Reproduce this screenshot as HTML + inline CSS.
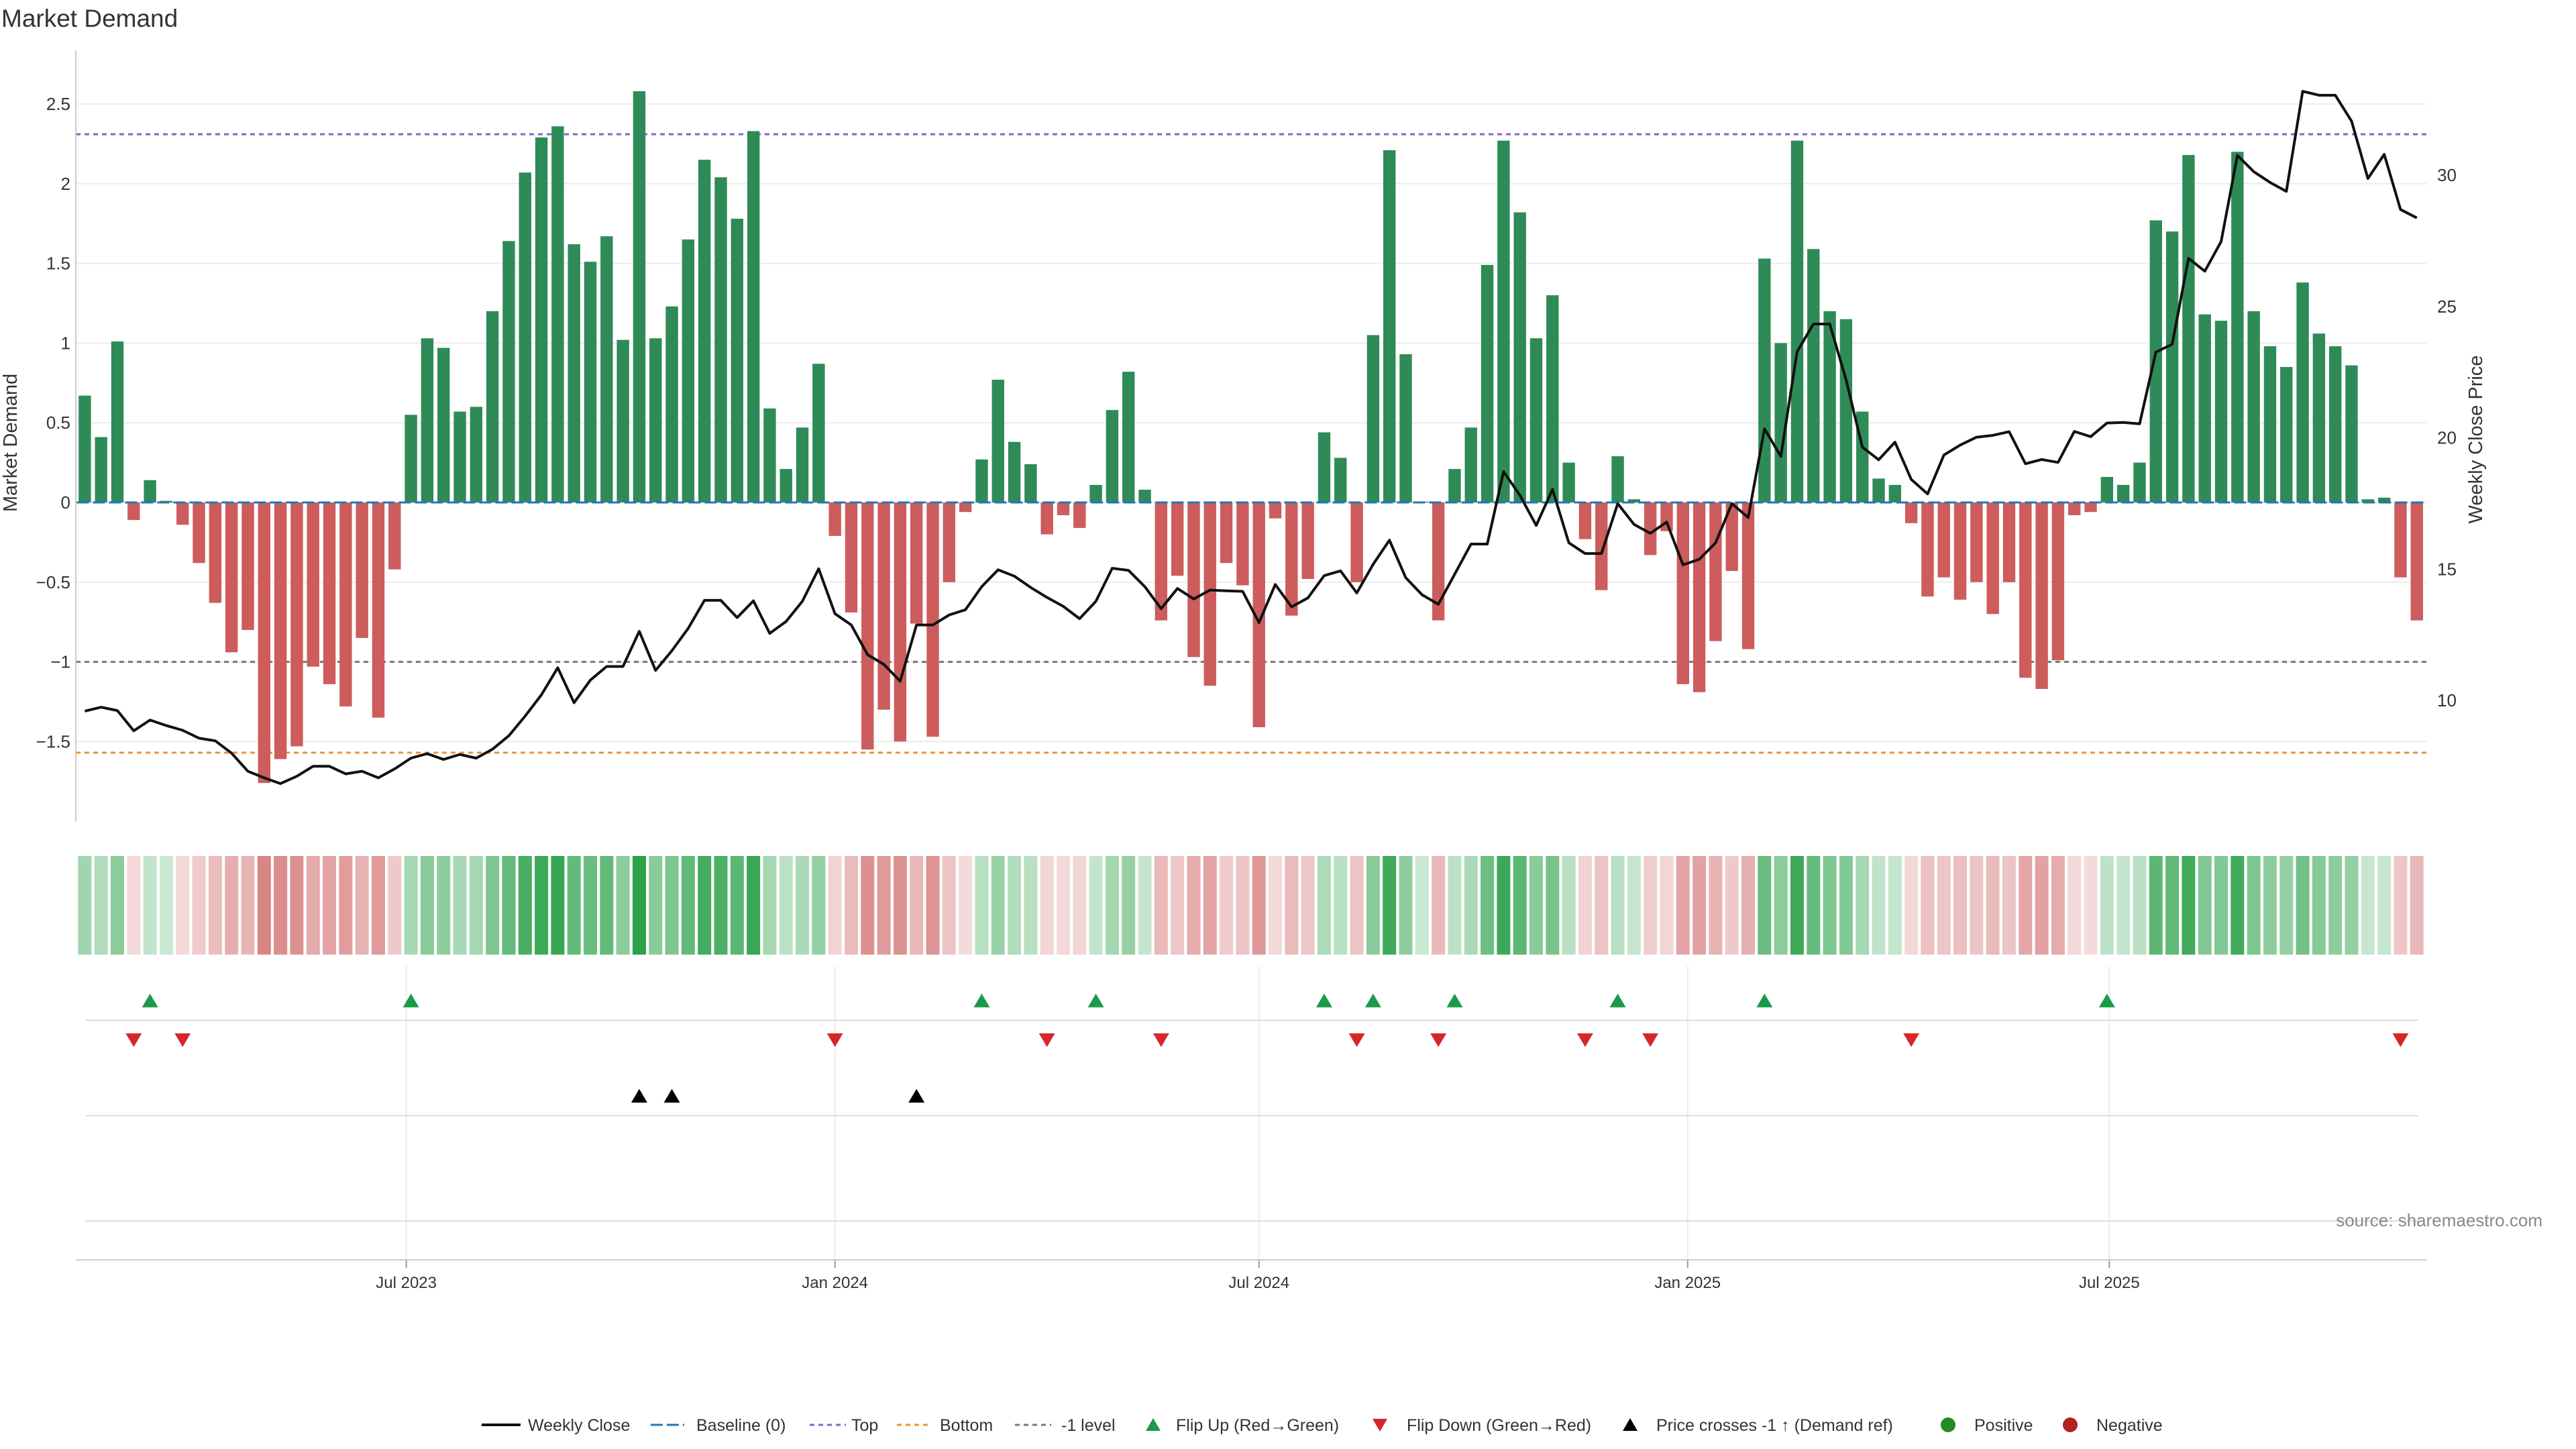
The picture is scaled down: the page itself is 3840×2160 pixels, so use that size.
<!DOCTYPE html>
<html><head><meta charset="utf-8">
<style>
html,body{margin:0;padding:0;background:#fff;}
svg{display:block;font-family:"Liberation Sans","DejaVu Sans",sans-serif;}
</style></head>
<body>
<svg id="chart" width="3840" height="2160" viewBox="0 0 3840 2160" xmlns="http://www.w3.org/2000/svg">
<text x="2" y="40" font-size="37" fill="#333">Market Demand</text>
<g id="grid"></g><g id="refs"></g><g id="bars"></g><g id="price"></g><g id="axes"></g><g id="lower"></g><g id="legend"></g>
</svg>
<script>
const demand = [0.67,0.41,1.01,-0.11,0.14,0.01,-0.14,-0.38,-0.63,-0.94,-0.80,-1.76,-1.61,-1.53,-1.03,-1.14,-1.28,-0.85,-1.35,-0.42,
0.55,1.03,0.97,0.57,0.60,1.20,1.64,2.07,2.29,2.36,1.62,1.51,1.67,1.02,2.58,1.03,1.23,1.65,2.15,2.04,1.78,2.33,0.59,0.21,0.47,0.87,
-0.21,-0.69,-1.55,-1.30,-1.50,-0.76,-1.47,-0.50,-0.06,0.27,0.77,0.38,0.24,-0.20,-0.08,-0.16,0.11,0.58,0.82,0.08,
-0.74,-0.46,-0.97,-1.15,-0.38,-0.52,-1.41,-0.10,-0.71,-0.48,0.44,0.28,-0.50,1.05,2.21,0.93,0.005,-0.74,0.21,0.47,1.49,2.27,1.82,1.03,1.30,0.25,
-0.23,-0.55,0.29,0.02,-0.33,-0.18,-1.14,-1.19,-0.87,-0.43,-0.92,1.53,1.00,2.27,1.59,1.20,1.15,0.57,0.15,0.11,
-0.13,-0.59,-0.47,-0.61,-0.50,-0.70,-0.50,-1.10,-1.17,-0.99,-0.08,-0.06,0.16,0.11,0.25,1.77,1.70,2.18,1.18,1.14,2.20,1.20,0.98,0.85,1.38,1.06,0.98,0.86,0.02,0.03,-0.47,-0.74];
const price = [9.59,9.74,9.61,8.84,9.25,9.04,8.86,8.56,8.46,7.99,7.30,7.05,6.83,7.11,7.49,7.49,7.20,7.30,7.05,7.39,7.80,7.97,7.75,7.94,7.80,8.14,8.65,9.40,10.21,11.24,9.91,10.77,11.29,11.29,12.63,11.14,11.89,
12.74,13.81,13.81,13.15,13.79,12.55,13.00,13.77,15.01,13.30,12.87,11.74,11.37,10.73,12.87,12.87,13.25,13.45,14.33,14.97,14.73,14.30,13.92,13.58,13.11,13.77,15.03,14.95,14.33,13.49,14.26,13.86,14.20,14.17,
14.15,12.96,14.41,13.56,13.90,14.75,14.93,14.09,15.18,16.10,14.67,14.02,13.66,14.80,15.95,15.95,18.71,17.81,16.66,18.03,16.00,15.59,15.59,17.49,16.70,16.36,16.79,15.16,15.37,16.00,17.49,16.96,20.34,19.29,23.28,
24.33,24.33,22.21,19.64,19.16,19.83,18.41,17.86,19.34,19.72,20.02,20.09,20.23,19.01,19.17,19.06,20.24,20.04,20.56,20.58,20.53,23.26,23.56,26.83,26.34,27.47,30.75,30.13,29.72,29.38,33.19,33.04,33.04,32.05,29.87,30.79,28.69,28.37];
const demandTicks = [-1.5,-1,-0.5,0,0.5,1,1.5,2,2.5];
const priceTicks = [10,15,20,25,30];
const dateTicks = ["2023-07-01","2024-01-01","2024-07-01","2025-01-01","2025-07-01"];
const dateLabels = ["Jul 2023","Jan 2024","Jul 2024","Jan 2025","Jul 2025"];
const refTop = 2.31, refBottom = -1.57, refMinus1 = -1;
const startDate = "2023-02-13";

const NS="http://www.w3.org/2000/svg";
function mk(tag, attrs, parent){const e=document.createElementNS(NS,tag);for(const k in attrs)e.setAttribute(k,attrs[k]);parent.appendChild(e);return e;}
const xBar = i => 126.4 + i*24.31;
const yD = v => 749 - v*237.6;
const yP = p => 652.5 - (p-20)*39.15;
const xDate = s => xBar((new Date(s) - new Date(startDate))/(7*86400000));
const fmt = v => (v<0?"\u2212":"")+Math.abs(v);
const L=113, R=3617;

const grid=document.getElementById('grid');
demandTicks.forEach(t=>{
  const l=mk('line',{x1:L,x2:R,y1:yD(t),y2:yD(t),stroke:'#ececec','stroke-width':2},grid);
  
  
});
const axes=document.getElementById('axes');
demandTicks.forEach(t=>{
  const tx=mk('text',{x:105,y:yD(t)+9,'text-anchor':'end','font-size':26,fill:'#333'},axes);
  tx.textContent=fmt(t);
  
  
});
priceTicks.forEach(t=>{
  const tx=mk('text',{x:3633,y:yP(t)+9,'font-size':26,fill:'#333'},axes);
  tx.textContent=t;
  
  
});
mk('line',{x1:L,x2:L,y1:75,y2:1225,stroke:'#ccc','stroke-width':2},axes);
let t1=mk('text',{x:0,y:0,'font-size':29,fill:'#333','text-anchor':'middle',transform:'translate(25,660) rotate(-90)'},axes);
t1.textContent='Market Demand';


let t2=mk('text',{x:0,y:0,'font-size':29,fill:'#333','text-anchor':'middle',transform:'translate(3700,655) rotate(-90)'},axes);
t2.textContent='Weekly Close Price';



const refs=document.getElementById('refs');
[[refTop,'#7b68c8','top-line'],[refBottom,'#f0922e','bottom-line'],[refMinus1,'#777','minus1-line']].forEach(r=>{
  const l=mk('line',{x1:L,x2:R,y1:yD(r[0]),y2:yD(r[0]),stroke:r[1],'stroke-width':3,'stroke-dasharray':'7 6'},refs);
  
  
});

const bars=document.getElementById('bars');
demand.forEach((v,i)=>{
  const y0=yD(0), y1=yD(v);
  const b=mk('rect',{x:xBar(i)-9.2,y:Math.min(y0,y1),width:18.4,height:Math.max(Math.abs(y1-y0),0.5),fill:v>=0?'#2e8b57':'#cd5c5c'},bars);
  
  
});
const bl=mk('line',{x1:xBar(0)-12,x2:xBar(demand.length-1)+12,y1:yD(0),y2:yD(0),stroke:'#1f77b4','stroke-width':3,'stroke-dasharray':'18 6'},bars);



const pl=mk('polyline',{points:price.map((p,i)=>xBar(i)+','+yP(p)).join(' '),fill:'none',stroke:'#111','stroke-width':4,'stroke-linejoin':'round'},document.getElementById('price'));



const lower=document.getElementById('lower');
dateTicks.forEach((d,k)=>{
  const x=xDate(d);
  const g=mk('line',{x1:x,x2:x,y1:1440,y2:1878,stroke:'#ececec','stroke-width':2},lower);
  
  
  const tk=mk('line',{x1:x,x2:x,y1:1878,y2:1890,stroke:'#999','stroke-width':2},lower);
  const tx=mk('text',{x:x,y:1920,'text-anchor':'middle','font-size':24,fill:'#333'},lower);
  tx.textContent=dateLabels[k];
  
  
});
[1521,1663,1820].forEach(y=>{
  const l=mk('line',{x1:127,x2:3605,y1:y,y2:y,stroke:'#ddd','stroke-width':2},lower);
  
  
});
const xa=mk('line',{x1:L,x2:R,y1:1878,y2:1878,stroke:'#ccc','stroke-width':2},lower);


demand.forEach((v,i)=>{
  const a=v>=0?0.25+0.75*Math.min(v/2.6,1):0.2+0.55*Math.min(-v/1.76,1);
  const c=mk('rect',{x:xBar(i)-10,y:1276,width:20,height:147,fill:v>=0?'rgba(40,160,70,'+a.toFixed(2)+')':'rgba(205,92,92,'+a.toFixed(2)+')'},lower);
  
  
});
function tri(x,y,up,color,name){
  const s=12;
  const pts=up?`${x-s},${y+s*0.8} ${x+s},${y+s*0.8} ${x},${y-s*0.9}`:`${x-s},${y-s*0.8} ${x+s},${y-s*0.8} ${x},${y+s*0.9}`;
  const t=mk('polygon',{points:pts,fill:color},lower);
  
  
}
const crossLevel = 20 - (yD(-1)-yP(20))/39.15;
demand.forEach((v,i)=>{
  if(i===0)return;
  if(v>0 && demand[i-1]<=0) tri(xBar(i),1492,true,'#1a9a4a','flip-up-marker');
  if(v<0 && demand[i-1]>=0) tri(xBar(i),1550,false,'#d62728','flip-down-marker');
  if(price[i]>crossLevel && price[i-1]<=crossLevel) tri(xBar(i),1634,true,'#000','price-cross-marker');
});
const src=mk('text',{x:3790,y:1828,'text-anchor':'end','font-size':26,fill:'#888'},lower);
src.textContent='source: sharemaestro.com';



const lg=document.getElementById('legend');
const Y=2124;
function ltext(x,s){const t=mk('text',{x:x,y:Y+9,'font-size':25,fill:'#333'},lg);t.textContent=s;}
function lline(x1,x2,c,dash,w){const l=mk('line',{x1:x1,x2:x2,y1:Y,y2:Y,stroke:c,'stroke-width':w,'stroke-dasharray':dash},lg);}
lline(718,776,'#111','none',4);ltext(787,'Weekly Close');
lline(970,1020,'#1f77b4','18 6',3);ltext(1038,'Baseline (0)');
lline(1207,1261,'#7b68c8','7 6',3);ltext(1269,'Top');
lline(1337,1386,'#f0922e','7 6',3);ltext(1401,'Bottom');
lline(1513,1567,'#777','7 6',3);ltext(1582,'-1 level');
function ltri(x,up,c){const s=11;const pts=up?`${x-s},${Y+9} ${x+s},${Y+9} ${x},${Y-10}`:`${x-s},${Y-9} ${x+s},${Y-9} ${x},${Y+10}`;const p=mk('polygon',{points:pts,fill:c},lg);}
ltri(1719,true,'#1a9a4a');ltext(1753,'Flip Up (Red\u2192Green)');
ltri(2057,false,'#d62728');ltext(2097,'Flip Down (Green\u2192Red)');
ltri(2430,true,'#000');ltext(2469,'Price crosses -1 \u2191 (Demand ref)');
let c1=mk('circle',{cx:2904,cy:Y,r:11,fill:'#228b22'},lg);
ltext(2943,'Positive');
let c2=mk('circle',{cx:3086,cy:Y,r:11,fill:'#b22222'},lg);
ltext(3125,'Negative');
</script>
</body></html>
